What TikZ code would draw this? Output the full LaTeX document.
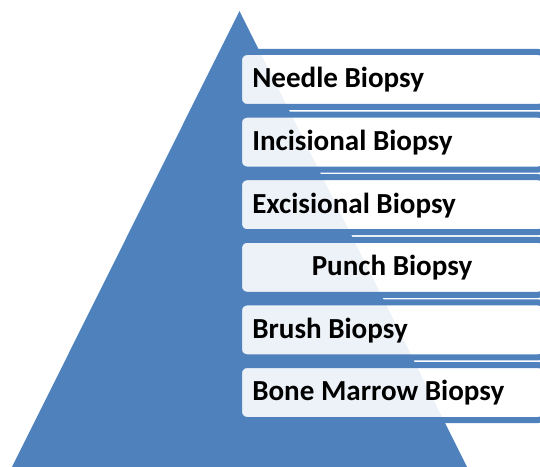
\documentclass[tikz,border=0pt]{standalone}
\usepackage{fontspec}
\setmainfont{Carlito}
\definecolor{pyrblue}{HTML}{4F81BD}
\begin{document}
\begin{tikzpicture}[x=0.75pt,y=-0.75pt,
  levelbox/.style={draw=pyrblue, line width=4.5pt, fill=white, fill opacity=0.9,
    rounded corners=6pt, minimum width=230.25pt, minimum height=41.25pt, inner sep=0pt},
  leveltext/.style={font=\fontsize{21.8}{26}\selectfont\bfseries, text=black, inner sep=0pt}]
\useasboundingbox (0,0) rectangle (540,467);
\clip (0,0) rectangle (540,467);
\fill[pyrblue] (239.5,11) -- (12,467) -- (467,467) -- cycle;
\foreach \i/\name in {0/b1,1/b2,2/b3,3/b4,4/b5,5/b6}{
  \node[levelbox] (\name) at (392.5,{79.5+62.6*\i}) {};
}
\node[leveltext, anchor=base west] (t1) at (252,{79.5+8.4}) {Needle Biopsy};
\node[leveltext, anchor=base west] (t2) at (252,{79.5+62.6+8.4}) {Incisional Biopsy};
\node[leveltext, anchor=base west] (t3) at (252,{79.5+2*62.6+8.4}) {Excisional Biopsy};
\node[leveltext, anchor=base] (t4) at (392,{79.5+3*62.6+8.4}) {Punch Biopsy};
\node[leveltext, anchor=base west] (t5) at (252,{79.5+4*62.6+8.4}) {Brush Biopsy};
\node[leveltext, anchor=base west] (t6) at (252,{79.5+5*62.6+8.4}) {Bone Marrow Biopsy};
\end{tikzpicture}
\end{document}
